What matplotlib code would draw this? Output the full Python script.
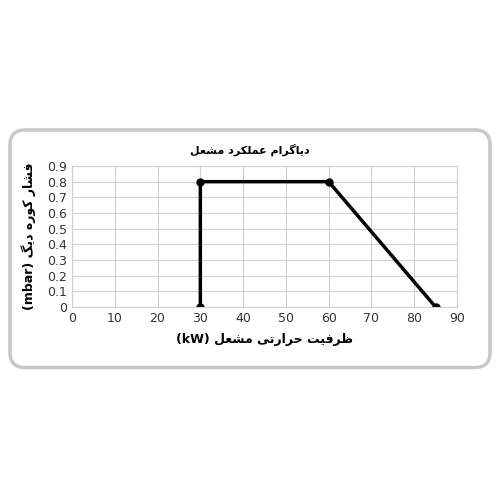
import matplotlib.pyplot as plt
from matplotlib.patches import FancyBboxPatch

# burner capacity (kW) vs furnace pressure (mbar)
capacity = [30, 30, 60, 85]
pressure = [0, 0.8, 0.8, 0]
x_ticks = list(range(0, 100, 10))
y_ticks = [0, 0.1, 0.2, 0.3, 0.4, 0.5, 0.6, 0.7, 0.8, 0.9]

title_txt = "دیاگرام عملکرد مشعل"
xlabel_txt = "ظرفیت حرارتی مشعل"
ylabel_txt = "فشار کوره دیگ"

# minimal Persian shaping: isolated, final, initial, medial
FORMS = {
    'ا': ('\uFE8D', '\uFE8E', None, None),
    'د': ('\uFEA9', '\uFEAA', None, None),
    'ر': ('\uFEAD', '\uFEAE', None, None),
    'و': ('\uFEED', '\uFEEE', None, None),
    'ی': ('\uFBFC', '\uFBFD', '\uFBFE', '\uFBFF'),
    'گ': ('\uFB92', '\uFB93', '\uFB94', '\uFB95'),
    'ک': ('\uFB8E', '\uFB8F', '\uFB90', '\uFB91'),
    'م': ('\uFEE1', '\uFEE2', '\uFEE3', '\uFEE4'),
    'ع': ('\uFEC9', '\uFECA', '\uFECB', '\uFECC'),
    'ل': ('\uFEDD', '\uFEDE', '\uFEDF', '\uFEE0'),
    'ش': ('\uFEB5', '\uFEB6', '\uFEB7', '\uFEB8'),
    'ه': ('\uFEE9', '\uFEEA', '\uFEEB', '\uFEEC'),
    'ظ': ('\uFEC5', '\uFEC6', '\uFEC7', '\uFEC8'),
    'ف': ('\uFED1', '\uFED2', '\uFED3', '\uFED4'),
    'ت': ('\uFE95', '\uFE96', '\uFE97', '\uFE98'),
    'ح': ('\uFEA1', '\uFEA2', '\uFEA3', '\uFEA4'),
}


def shape(s):
    out = []
    for i, c in enumerate(s):
        if c not in FORMS:
            out.append(c)
            continue
        prev = s[i - 1] if i > 0 else ''
        nxt = s[i + 1] if i + 1 < len(s) else ''
        join_prev = prev in FORMS and FORMS[prev][2] is not None
        join_next = nxt in FORMS and FORMS[c][2] is not None
        f = FORMS[c]
        if join_prev and join_next:
            out.append(f[3])
        elif join_prev:
            out.append(f[1])
        elif join_next:
            out.append(f[2])
        else:
            out.append(f[0])
    return ''.join(out)[::-1]


plt.rcParams['font.family'] = ['DejaVu Sans']
fig = plt.figure(figsize=(5, 5), dpi=100)

box = FancyBboxPatch((0.02, 0.265), 0.96, 0.475, transform=fig.transFigure,
                     boxstyle="round,pad=0,rounding_size=0.03",
                     facecolor='white', edgecolor='#c8c8c8', linewidth=2.5, zorder=-5)
fig.patches.append(box)

ax = fig.add_axes([0.144, 0.386, 0.77, 0.282])
ax.set_zorder(2)
ax.plot(capacity, pressure, color='black', linewidth=2.5, marker='o', markersize=5)
ax.set_xlim(0, 90)
ax.set_ylim(0, 0.9)
ax.set_xticks(x_ticks)
ax.set_yticks(y_ticks)
ax.set_yticklabels([f"{v:g}" for v in y_ticks])
ax.grid(True, color='#d0d0d0', linewidth=0.8)
for sp in ax.spines.values():
    sp.set_color('#d0d0d0')
ax.tick_params(length=0, labelsize=9, colors='#333333')
ax.set_axisbelow(True)

fig.text(0.5, 0.7, shape(title_txt), ha='center', va='center', fontsize=8, fontweight='bold')
ax.set_xlabel("(kW) " + shape(xlabel_txt), fontsize=9, fontweight='bold', labelpad=6)
ax.set_ylabel("(mbar) " + shape(ylabel_txt), fontsize=9, fontweight='bold', labelpad=8)

fig.savefig('out.png', dpi=100)
